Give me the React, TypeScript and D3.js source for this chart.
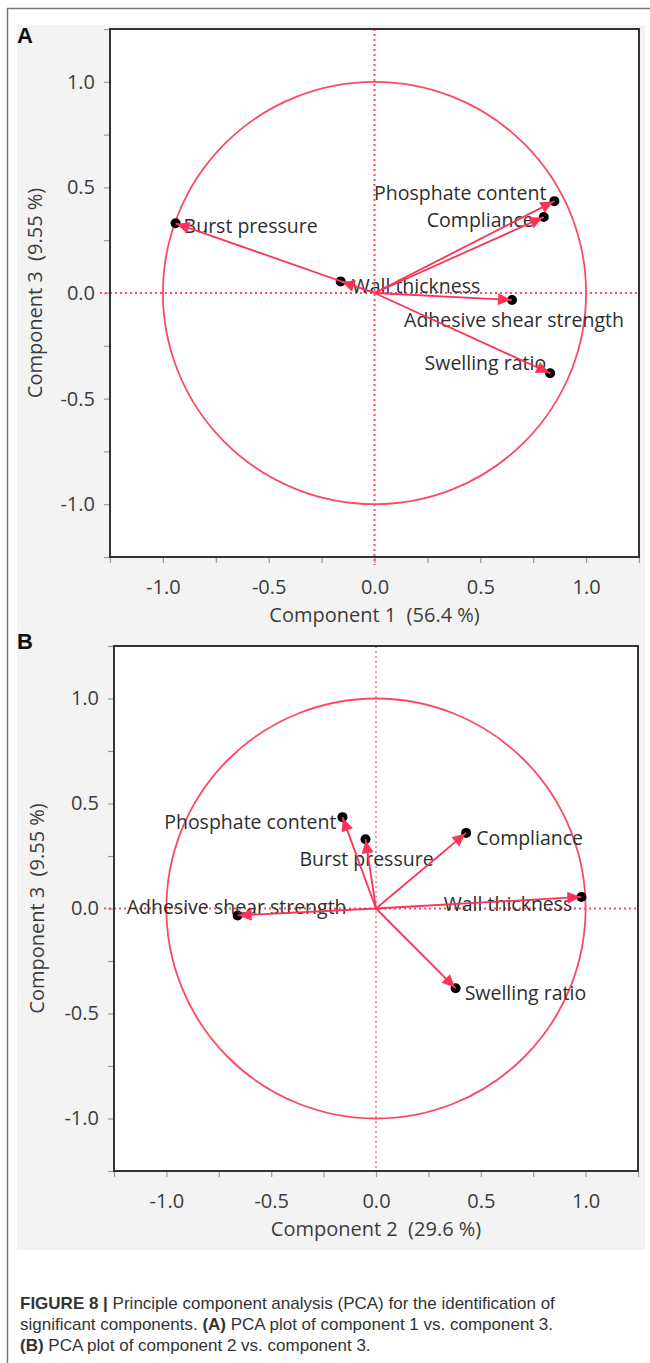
import React, { useEffect, useRef } from 'react';
import * as d3 from 'd3';

// loadings (component 1 / 2 / 3 per variable)
const VARIABLES = ['Burst pressure', 'Wall thickness', 'Phosphate content', 'Compliance', 'Adhesive shear strength', 'Swelling ratio'];
const COMPONENT_1 = [-0.94, -0.16, 0.85, 0.8, 0.65, 0.83];
const COMPONENT_2 = [-0.05, 0.98, -0.16, 0.43, -0.66, 0.38];
const COMPONENT_3 = [0.33, 0.055, 0.435, 0.36, -0.033, -0.38];

const MAJOR_TICKS = [-1, -0.5, 0, 0.5, 1];
const MINOR_TICKS = [-1.25, -1, -0.75, -0.5, -0.25, 0, 0.25, 0.5, 0.75, 1, 1.25];
const X_TITLES = ['Component 1  (56.4 %)', 'Component 2  (29.6 %)'];
const Y_TITLE = 'Component 3  (9.55 %)';

const RED = '#fb4a62';
const ARROW_RED = '#fb3358';
const UI_FONT = '"Open Sans", "Noto Sans", sans-serif';

type LabelPos = [number, number, 'start' | 'middle' | 'end'];

// label offsets from each point, same order as VARIABLES
const LABELS_A: LabelPos[] = [
  [8, 3, 'start'],
  [11, 5, 'start'],
  [-8, -8, 'end'],
  [-10, 3, 'end'],
  [2, 20, 'middle'],
  [-4, -10, 'end'],
];
const LABELS_B: LabelPos[] = [
  [1, 20, 'middle'],
  [-9, 7, 'end'],
  [-6, 5, 'end'],
  [10, 5, 'start'],
  [-1, -8, 'middle'],
  [9, 5, 'start'],
];

const PANELS = [
  { letter: 'A', xs: COMPONENT_1, title: X_TITLES[0], labels: LABELS_A, box: { l: 110, t: 29, r: 639, b: 557 }, letterY: 43, yTitleX: 35, vThin: false },
  { letter: 'B', xs: COMPONENT_2, title: X_TITLES[1], labels: LABELS_B, box: { l: 114, t: 646, r: 638, b: 1171 }, letterY: 649, yTitleX: 37, vThin: true },
];

function App() {
  const ref = useRef<SVGSVGElement>(null);

  useEffect(() => {
    const svg = d3.select(ref.current);
    svg.selectAll('*').remove();

    // page frame + grey panel background
    svg.append('line').attr('x1', 7).attr('x2', 650).attr('y1', 8.5).attr('y2', 8.5).attr('stroke', '#777').attr('stroke-width', 1.5);
    svg.append('line').attr('x1', 7.5).attr('x2', 7.5).attr('y1', 8).attr('y2', 1363).attr('stroke', '#777').attr('stroke-width', 1.5);
    svg.append('rect').attr('x', 17).attr('y', 25).attr('width', 628).attr('height', 1225).attr('fill', '#f3f3f3');

    PANELS.forEach((p) => {
      const { l, t, r, b } = p.box;
      const x = d3.scaleLinear().domain([-1.25, 1.25]).range([l, r]);
      const y = d3.scaleLinear().domain([-1.25, 1.25]).range([b, t]);
      const g = svg.append('g');

      g.append('rect').attr('x', l).attr('y', t).attr('width', r - l).attr('height', b - t).attr('fill', '#fff');

      const styleAxis = (s: any) => {
        s.select('.domain').remove();
        s.selectAll('line').attr('stroke', '#9a9a9a').attr('stroke-width', 1.2);
        s.selectAll('text').attr('fill', '#3c3c3c').attr('font-family', UI_FONT).attr('font-size', 20);
      };
      const fmt = (d: any) => (MAJOR_TICKS.includes(d) ? (+d).toFixed(1) : '');

      g.append('g')
        .attr('transform', `translate(0,${b})`)
        .call(d3.axisBottom(x).tickValues(MINOR_TICKS).tickSize(6).tickPadding(17).tickFormat(fmt))
        .call(styleAxis);
      g.append('g')
        .attr('transform', `translate(${l},0)`)
        .call(d3.axisLeft(y).tickValues(MINOR_TICKS).tickSize(6).tickPadding(9).tickFormat(fmt))
        .call(styleAxis);

      // zero reference lines
      g.append('line')
        .attr('x1', l - 10).attr('x2', r)
        .attr('y1', y(0)).attr('y2', y(0))
        .attr('stroke', RED).attr('stroke-width', 2).attr('stroke-dasharray', '2,3');
      g.append('line')
        .attr('x1', x(0)).attr('x2', x(0))
        .attr('y1', t).attr('y2', b + (p.vThin ? 0 : 8))
        .attr('stroke', RED).attr('stroke-width', p.vThin ? 1.2 : 2).attr('stroke-dasharray', '2,3');

      // unit circle
      g.append('ellipse')
        .attr('cx', x(0)).attr('cy', y(0))
        .attr('rx', x(1) - x(0)).attr('ry', y(0) - y(1))
        .attr('fill', 'none').attr('stroke', RED).attr('stroke-width', 1.8);

      // plot frame
      g.append('rect').attr('x', l).attr('y', t).attr('width', r - l).attr('height', b - t)
        .attr('fill', 'none').attr('stroke', '#333').attr('stroke-width', 2);

      const pts = VARIABLES.map((name, i) => ({ name, px: x(p.xs[i]), py: y(COMPONENT_3[i]), lab: p.labels[i] }));

      g.selectAll('circle.dot').data(pts).join('circle').attr('class', 'dot')
        .attr('cx', (d) => d.px).attr('cy', (d) => d.py).attr('r', 5).attr('fill', '#000');

      g.selectAll('text.lab').data(pts).join('text').attr('class', 'lab')
        .attr('x', (d) => d.px + d.lab[0]).attr('y', (d) => d.py + d.lab[1])
        .attr('dy', '0.35em').attr('text-anchor', (d) => d.lab[2])
        .attr('fill', '#2e2e2e').attr('font-family', UI_FONT).attr('font-size', 19.5)
        .text((d) => d.name);

      g.selectAll('line.arrow').data(pts).join('line').attr('class', 'arrow')
        .attr('x1', x(0)).attr('y1', y(0)).attr('x2', (d) => d.px).attr('y2', (d) => d.py)
        .attr('stroke', ARROW_RED).attr('stroke-width', 1.8);

      g.selectAll('path.head').data(pts).join('path').attr('class', 'head')
        .attr('d', (d) => {
          const dx = d.px - x(0);
          const dy = d.py - y(0);
          const len = Math.hypot(dx, dy) || 1;
          const ux = dx / len, uy = dy / len;
          const tx = d.px - ux * 1, ty = d.py - uy * 1;
          const bx = tx - ux * 13, by = ty - uy * 13;
          return `M${tx},${ty}L${bx - uy * 6},${by + ux * 6}L${bx + uy * 6},${by - ux * 6}Z`;
        })
        .attr('fill', ARROW_RED);

      // titles
      g.append('text')
        .attr('x', x(0)).attr('y', b + 65)
        .attr('text-anchor', 'middle').attr('fill', '#3c3c3c')
        .attr('font-family', UI_FONT).attr('font-size', 20)
        .style('white-space', 'pre')
        .text(p.title);
      g.append('text')
        .attr('transform', `translate(${p.yTitleX},${y(0)}) rotate(-90)`)
        .attr('text-anchor', 'middle').attr('dy', '0.35em').attr('fill', '#3c3c3c')
        .attr('font-family', UI_FONT).attr('font-size', 20)
        .style('white-space', 'pre')
        .text(Y_TITLE);
      g.append('text')
        .attr('x', 17).attr('y', p.letterY)
        .attr('fill', '#111').attr('font-family', '"Liberation Sans", Arial, sans-serif')
        .attr('font-weight', 700).attr('font-size', 22)
        .text(p.letter);
    });

    // caption
    const cap = svg.append('g')
      .attr('font-family', '"Liberation Sans Narrow", "Arial Narrow", "Liberation Sans", sans-serif')
      .attr('font-size', 17).attr('fill', '#333');
    const lines: [string, string][][] = [
      [['FIGURE 8 | ', 'b'], ['Principle component analysis (PCA) for the identification of', '']],
      [['significant components. ', ''], ['(A)', 'b'], [' PCA plot of component 1 vs. component 3.', '']],
      [['(B)', 'b'], [' PCA plot of component 2 vs. component 3.', '']],
    ];
    lines.forEach((parts, i) => {
      const tx = cap.append('text').attr('x', 20).attr('y', 1309 + i * 21).style('white-space', 'pre');
      parts.forEach(([s, w]) => {
        tx.append('tspan').attr('font-weight', w ? 700 : 400).text(s);
      });
    });
  }, []);

  return (
    <div style={{ position: 'absolute', left: 0, top: 0 }}>
      <svg ref={ref} width={650} height={1363} style={{ display: 'block', background: '#fff' }} />
    </div>
  );
}

export default App;
